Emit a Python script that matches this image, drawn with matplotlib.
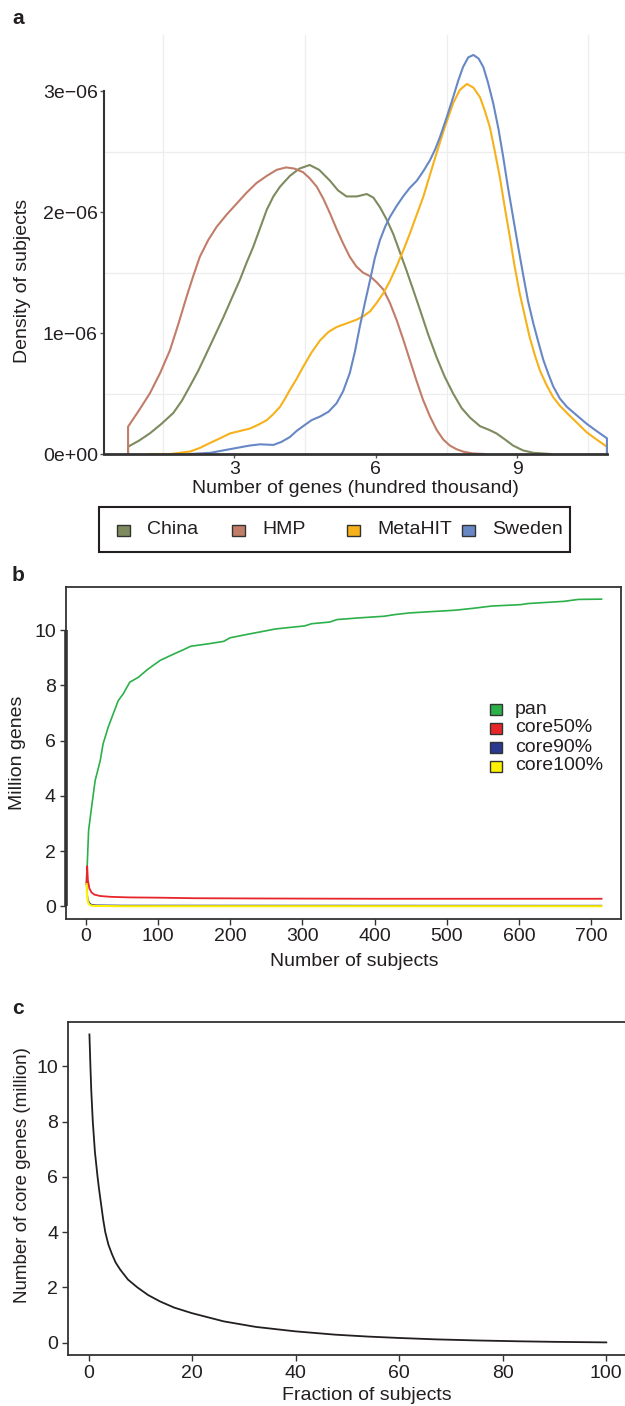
import matplotlib
matplotlib.use("Agg")
import matplotlib.pyplot as plt
from matplotlib.patches import Rectangle
import numpy as np

plt.rcParams['font.family'] = ['Liberation Sans', 'DejaVu Sans']
plt.rcParams['font.size'] = 14

TXT = '#231F20'
AXC = '#333333'

# ---------------- Panel a data (x: hundred thousand genes, y: density x1e-6)
groups = ['China', 'HMP', 'MetaHIT', 'Sweden']
group_colors = ['#7D8B5E', '#C27D69', '#F6B11B', '#6788C5']

china_x = [0.75, 0.98, 1.21, 1.46, 1.71, 1.89, 2.06, 2.24, 2.41, 2.59, 2.77, 2.95,
           3.12, 3.26, 3.40, 3.55, 3.69, 3.83, 3.97, 4.18, 4.38, 4.60, 4.80, 5.03,
           5.20, 5.38, 5.60, 5.81, 5.95, 6.09, 6.23, 6.37, 6.51, 6.65, 6.80, 6.94,
           7.11, 7.29, 7.46, 7.64, 7.82, 8.00, 8.21, 8.40, 8.56, 8.74, 8.91, 9.12,
           9.34, 9.70]
china_y = [0.06, 0.11, 0.17, 0.25, 0.34, 0.44, 0.56, 0.69, 0.83, 0.98, 1.13, 1.29,
           1.44, 1.58, 1.71, 1.87, 2.02, 2.13, 2.21, 2.30, 2.36, 2.39, 2.35, 2.26,
           2.18, 2.13, 2.13, 2.15, 2.12, 2.04, 1.94, 1.82, 1.67, 1.52, 1.35, 1.19,
           0.99, 0.80, 0.64, 0.50, 0.38, 0.30, 0.23, 0.20, 0.17, 0.12, 0.07, 0.03,
           0.01, 0.0]

hmp_x = [0.75, 0.98, 1.21, 1.43, 1.64, 1.82, 1.99, 2.13, 2.27, 2.45, 2.63, 2.84,
         3.05, 3.26, 3.47, 3.69, 3.90, 4.10, 4.28, 4.46, 4.60, 4.75, 4.89, 5.03,
         5.17, 5.31, 5.45, 5.59, 5.73, 5.88, 6.02, 6.16, 6.30, 6.44, 6.58, 6.72,
         6.86, 7.00, 7.15, 7.29, 7.43, 7.57, 7.71, 7.85, 8.05, 8.30]
hmp_y = [0.226, 0.36, 0.50, 0.67, 0.86, 1.08, 1.30, 1.47, 1.63, 1.77, 1.88, 1.98,
         2.07, 2.16, 2.24, 2.30, 2.35, 2.37, 2.36, 2.33, 2.28, 2.21, 2.11, 1.99,
         1.86, 1.74, 1.63, 1.55, 1.50, 1.47, 1.42, 1.36, 1.25, 1.11, 0.95, 0.78,
         0.61, 0.45, 0.31, 0.20, 0.12, 0.07, 0.04, 0.02, 0.005, 0.0]

metahit_x = [1.20, 1.64, 2.06, 2.27, 2.48, 2.70, 2.91, 3.12, 3.33, 3.50, 3.69, 3.83,
             3.97, 4.08, 4.18, 4.32, 4.46, 4.64, 4.82, 5.00, 5.17, 5.38, 5.59, 5.74,
             5.88, 6.02, 6.16, 6.30, 6.44, 6.58, 6.72, 6.86, 7.01, 7.15, 7.29, 7.46,
             7.64, 7.78, 7.93, 8.07, 8.21, 8.31, 8.42, 8.52, 8.63, 8.73, 8.84, 8.94,
             9.05, 9.16, 9.26, 9.37, 9.48, 9.62, 9.76, 9.90, 10.05, 10.26, 10.47,
             10.68, 10.90]
metahit_y = [0.0, 0.0, 0.02, 0.05, 0.09, 0.13, 0.17, 0.19, 0.21, 0.24, 0.28, 0.33,
             0.39, 0.46, 0.53, 0.62, 0.72, 0.84, 0.94, 1.01, 1.05, 1.08, 1.11, 1.14,
             1.18, 1.25, 1.33, 1.43, 1.55, 1.68, 1.82, 1.97, 2.13, 2.31, 2.49, 2.70,
             2.90, 3.01, 3.06, 3.03, 2.95, 2.84, 2.70, 2.51, 2.29, 2.05, 1.80, 1.56,
             1.33, 1.14, 0.97, 0.82, 0.69, 0.57, 0.47, 0.40, 0.34, 0.26, 0.18, 0.12,
             0.06]

sweden_x = [2.06, 2.50, 2.77, 3.05, 3.33, 3.55, 3.83, 4.00, 4.18, 4.32, 4.46, 4.64,
            4.82, 5.00, 5.17, 5.31, 5.45, 5.56, 5.66, 5.77, 5.88, 5.98, 6.09, 6.20,
            6.30, 6.44, 6.58, 6.72, 6.87, 7.01, 7.15, 7.26, 7.36, 7.50, 7.64, 7.75,
            7.85, 7.96, 8.07, 8.18, 8.28, 8.38, 8.49, 8.60, 8.70, 8.80, 8.91, 9.02,
            9.13, 9.23, 9.34, 9.45, 9.55, 9.66, 9.76, 9.90, 10.05, 10.26, 10.47,
            10.68, 10.90]
sweden_y = [0.0, 0.01, 0.03, 0.05, 0.07, 0.08, 0.075, 0.10, 0.14, 0.19, 0.23, 0.28,
            0.31, 0.35, 0.42, 0.52, 0.67, 0.85, 1.05, 1.25, 1.44, 1.62, 1.77, 1.88,
            1.96, 2.05, 2.13, 2.20, 2.26, 2.34, 2.43, 2.52, 2.62, 2.78, 2.95, 3.09,
            3.20, 3.28, 3.30, 3.27, 3.20, 3.07, 2.90, 2.69, 2.46, 2.21, 1.96, 1.71,
            1.47, 1.26, 1.08, 0.92, 0.78, 0.66, 0.56, 0.46, 0.39, 0.32, 0.25, 0.19,
            0.13]

a_xticks = [3, 6, 9]
a_yticks = [0, 1, 2, 3]
a_yticklabels = ['0e+00', '1e\u221206', '2e\u221206', '3e\u221206']

# ---------------- Panel b data (x: number of subjects, y: million genes)
b_series = ['pan', 'core50%', 'core90%', 'core100%']
b_colors = ['#2BB04A', '#E8262A', '#2B3990', '#FFF200']

pan_x = [1, 2, 4, 8, 13, 20, 24, 31, 38, 45, 52, 61, 73, 85, 103, 121, 138, 145, 172,
         191, 200, 223, 241, 263, 303, 313, 338, 348, 378, 413, 428, 448, 512, 537,
         562, 602, 612, 662, 682, 714]
pan_y = [0.80, 1.45, 2.75, 3.57, 4.55, 5.27, 5.88, 6.48, 6.97, 7.45, 7.70, 8.12, 8.30,
         8.57, 8.91, 9.13, 9.33, 9.42, 9.52, 9.60, 9.73, 9.85, 9.94, 10.05, 10.16,
         10.24, 10.30, 10.39, 10.45, 10.51, 10.57, 10.63, 10.73, 10.80, 10.88, 10.93,
         10.97, 11.05, 11.12, 11.13]

core50_x = [1, 2, 3, 5, 8, 12, 20, 35, 60, 100, 150, 250, 400, 550, 714]
core50_y = [0.80, 1.45, 0.95, 0.65, 0.50, 0.42, 0.37, 0.34, 0.32, 0.31, 0.29, 0.28,
            0.27, 0.27, 0.27]

core90_x = [1, 2, 3, 5, 8, 15, 50, 714]
core90_y = [0.80, 0.45, 0.25, 0.12, 0.06, 0.04, 0.03, 0.025]

core100_x = [1, 2, 3, 5, 8, 15, 50, 714]
core100_y = [0.80, 0.35, 0.15, 0.06, 0.02, 0.01, 0.0, 0.0]

b_xticks = [0, 100, 200, 300, 400, 500, 600, 700]
b_yticks = [0, 2, 4, 6, 8, 10]

# ---------------- Panel c data (x: fraction of subjects %, y: million core genes)
frac_x = [0.14, 0.25, 0.33, 0.5, 0.79, 1.2, 1.71, 2.0, 2.4, 2.8, 3.2, 3.8, 4.5, 5.2,
          6.1, 7.6, 9.4, 11.5, 13.8, 16.5, 19.9, 23.0, 26.1, 32.3, 39.9, 47.6, 54.0,
          60.0, 67.0, 75.0, 83.0, 90.0, 100.0]
core_y = [11.15, 10.5, 10.0, 9.1, 8.0, 6.9, 6.0, 5.55, 5.0, 4.45, 4.0, 3.55, 3.2, 2.9,
          2.64, 2.28, 2.0, 1.72, 1.49, 1.27, 1.07, 0.92, 0.77, 0.57, 0.41, 0.29, 0.22,
          0.17, 0.12, 0.08, 0.05, 0.03, 0.01]

c_xticks = [0, 20, 40, 60, 80, 100]
c_yticks = [0, 2, 4, 6, 8, 10]

# ---------------- Figure
W, H = 625, 1406
fig = plt.figure(figsize=(W / 100, H / 100), dpi=100)


def rect(l, t, r, b):
    return [l / W, 1 - b / H, (r - l) / W, (b - t) / H]


def fx(px):
    return px / W


def fy(py):
    return 1 - py / H


# ===== Panel a
ax_a = fig.add_axes(rect(104, 35, 631, 454))
series_a = [(china_x, china_y), (hmp_x, hmp_y), (metahit_x, metahit_y), (sweden_x, sweden_y)]
for (xs, ys), col in zip(series_a, group_colors):
    px = [xs[0]] + list(xs) + [xs[-1]]
    py = [0.0] + list(ys) + [0.0]
    ax_a.plot(px, np.array(py) * 1e-6, color=col, lw=1.5, solid_joinstyle='round', zorder=3)

ax_a.set_xlim(0.24, 11.41)
ax_a.set_ylim(0, 3.465e-6)
ax_a.set_xticks(a_xticks)
ax_a.set_yticks(np.array(a_yticks) * 1e-6)
ax_a.set_yticklabels(a_yticklabels)
ax_a.set_xticks([1.5, 4.5, 7.5, 10.5], minor=True)
ax_a.set_yticks(np.array([0.5, 1.5, 2.5]) * 1e-6, minor=True)
ax_a.grid(which='minor', color='#EDEDED', lw=0.9)
ax_a.tick_params(which='minor', length=0)
ax_a.tick_params(which='major', direction='out', length=3, width=1, color='#555555',
                 labelcolor=TXT, labelsize=14, pad=1.5)
ax_a.tick_params(axis='x', pad=2)
for s in ['top', 'right']:
    ax_a.spines[s].set_visible(False)
ax_a.spines['left'].set_bounds(0, 3e-6)
ax_a.spines['left'].set_linewidth(1.5)
ax_a.spines['left'].set_color(AXC)
ax_a.spines['bottom'].set_bounds(0.24, 10.90)
ax_a.spines['bottom'].set_linewidth(2.0)
ax_a.spines['bottom'].set_color(AXC)
ax_a.spines['left'].set_zorder(4)
ax_a.spines['bottom'].set_zorder(4)
ax_a.set_ylabel('Density of subjects', color=TXT, fontsize=14)
ax_a.yaxis.set_label_coords((31 - 104) / 527, (454 - 281) / 419)
ax_a.set_xlabel('Number of genes (hundred thousand)', color=TXT, fontsize=14)
ax_a.xaxis.set_label_coords((355 - 104) / 527, -(488 - 454) / 419)
ax_a.xaxis.label.set_va('center')

# legend for panel a (drawn in figure space)
fig.add_artist(Rectangle((fx(99), fy(552)), (570 - 99) / W, 45 / H, transform=fig.transFigure,
                         facecolor='white', edgecolor=TXT, lw=1.5))
for i, (g, col) in enumerate(zip(groups, group_colors)):
    x0 = 117 + 115 * i
    fig.add_artist(Rectangle((fx(x0), fy(536)), 13 / W, 11 / H, transform=fig.transFigure,
                             facecolor=col, edgecolor='#333333', lw=1.0))
    fig.text(fx(x0 + 30), fy(530), g, color=TXT, fontsize=14, va='center', ha='left')

# ===== Panel b
ax_b = fig.add_axes(rect(65.5, 587, 621, 918.5))
series_b = [(pan_x, pan_y), (core50_x, core50_y), (core90_x, core90_y), (core100_x, core100_y)]
b_lw = [1.2, 1.3, 1.0, 1.5]
for (xs, ys), col, lw in zip(series_b, b_colors, b_lw):
    ax_b.plot(xs, ys, color=col, lw=lw)
ax_b.set_xlim(-28, 741)
ax_b.set_ylim(-0.445, 11.57)
ax_b.set_xticks(b_xticks)
ax_b.set_yticks(b_yticks)
ax_b.tick_params(direction='out', length=4, width=1, color=AXC, labelcolor=TXT,
                 labelsize=14, pad=3)
for s in ax_b.spines.values():
    s.set_linewidth(1.3)
    s.set_color(AXC)
ax_b.plot([-28, -28], [0, 10], color=AXC, lw=2.6, clip_on=False, solid_capstyle='butt')
ax_b.set_ylabel('Million genes', color=TXT, fontsize=14, labelpad=6)
ax_b.set_xlabel('Number of subjects', color=TXT, fontsize=14)
ax_b.xaxis.set_label_coords(0.52, -(962 - 918.5) / 331.5)
ax_b.xaxis.label.set_va('center')

bw, bh = 555.5, 331.5
for i, (lab, col) in enumerate(zip(b_series, b_colors)):
    yc = 709 + 19 * i
    ax_b.add_patch(Rectangle(((490 - 65.5) / bw, (918.5 - yc - 5.5) / bh), 12 / bw, 11 / bh,
                             transform=ax_b.transAxes, facecolor=col, edgecolor='#333333',
                             lw=1.0, clip_on=False))
    ax_b.text((515 - 65.5) / bw, (918.5 - yc) / bh, lab, transform=ax_b.transAxes,
              color=TXT, fontsize=14, va='center', ha='left')

# ===== Panel c
ax_c = fig.add_axes(rect(68, 1022, 627, 1355))
ax_c.plot(frac_x, core_y, color=TXT, lw=1.3)
ax_c.set_xlim(-4, 104)
ax_c.set_ylim(-0.446, 11.6)
ax_c.set_xticks(c_xticks)
ax_c.set_yticks(c_yticks)
ax_c.tick_params(direction='out', length=4, width=1, color=AXC, labelcolor=TXT,
                 labelsize=14, pad=3)
for s in ax_c.spines.values():
    s.set_linewidth(1.3)
    s.set_color(AXC)
ax_c.set_ylabel('Number of core genes (million)', color=TXT, fontsize=13.5)
ax_c.yaxis.set_label_coords((31 - 68) / 559, (1355 - 1175) / 333)
ax_c.set_xlabel('Fraction of subjects', color=TXT, fontsize=14)
ax_c.xaxis.set_label_coords(0.534, -(1395 - 1355) / 333)
ax_c.xaxis.label.set_va('center')

# panel letters
for lab, py in [('a', 18), ('b', 576), ('c', 1009)]:
    fig.text(fx(12), fy(py), lab, fontsize=15, fontweight='bold', color=TXT,
             va='center', ha='left')

fig.savefig('out.png', dpi=100)
